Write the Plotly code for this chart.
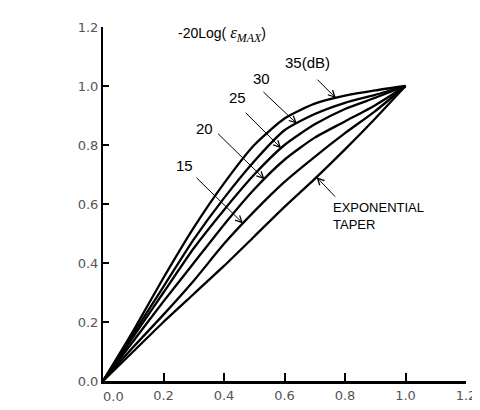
import numpy as np
import plotly.graph_objects as go

zeta = [0.0, 0.1, 0.2, 0.3, 0.4, 0.5, 0.6, 0.7, 0.8, 0.9, 1.0]
g35 = [0.0, 0.17, 0.35, 0.52, 0.67, 0.80, 0.89, 0.94, 0.967, 0.985, 1.0]
g30 = [0.0, 0.16, 0.32, 0.48, 0.62, 0.745, 0.85, 0.905, 0.943, 0.97, 1.0]
g25 = [0.0, 0.15, 0.30, 0.45, 0.58, 0.70, 0.80, 0.87, 0.922, 0.96, 1.0]
g20 = [0.0, 0.135, 0.27, 0.40, 0.53, 0.65, 0.75, 0.825, 0.88, 0.935, 1.0]
g15 = [0.0, 0.115, 0.225, 0.34, 0.465, 0.575, 0.675, 0.76, 0.84, 0.915, 1.0]
gexp = [0.0, 0.1, 0.2, 0.295, 0.39, 0.49, 0.59, 0.685, 0.785, 0.89, 1.0]

series = [("35", g35), ("30", g30), ("25", g25), ("20", g20), ("15", g15), ("EXP", gexp)]
labels = ["35(dB)", "30", "25", "20", "15", "EXPONENTIAL<br>TAPER"]
arrow_x = [0.770, 0.641, 0.589, 0.534, 0.463, 0.706]
tick_vals = [0.0, 0.2, 0.4, 0.6, 0.8, 1.0, 1.2]
tick_text = ["0.0", "0.2", "0.4", "0.6", "0.8", "1.0", "1.2"]

fig = go.Figure()
for name, g in series:
    fig.add_trace(go.Scatter(x=zeta, y=g, mode="lines", name=name,
                             line=dict(color="black", width=2.3, shape="spline", smoothing=0.6),
                             showlegend=False, hoverinfo="skip"))

# arrows (tail offsets in px)
arrow_off = [(-20, -20), (-35, -33), (-37, -37), (-48, -47), (-48, -47), (20, 21)]
# text positions in data coords
text_pos = [(0.676, 1.079, "center"), (0.524, 1.025, "center"), (0.443, 0.961, "center"),
            (0.337, 0.857, "center"), (0.269, 0.731, "center"), (0.754, 0.558, "left")]
text_size = [15, 15, 15, 15, 15, 13]

for (name, g), ax_, (ox, oy), (tx, ty, al), lab, fs in zip(series, arrow_x, arrow_off, text_pos, labels, text_size):
    ay_ = float(np.interp(ax_, zeta, g))
    fig.add_annotation(x=ax_, y=ay_, text="", showarrow=True, ax=ox, ay=oy,
                       arrowhead=5, arrowsize=1.3, arrowwidth=1, arrowcolor="black")
    fig.add_annotation(x=tx, y=ty, text=lab, showarrow=False, xanchor=al, align="left",
                       font=dict(family="Liberation Sans, Arial", size=fs, color="black"))

# x tick label 0.0 (shifted right like the reference)
fig.add_annotation(x=0.0, y=0.0, yshift=-15, xshift=10, text=tick_text[0], showarrow=False,
                   font=dict(family="DejaVu Sans", size=13, color="#555"))

# axis titles and header
fig.add_annotation(x=-0.178, y=1.119, text="G(B, ζ)", showarrow=False,
                   font=dict(family="Liberation Sans, Arial", size=13, color="black"))
fig.add_annotation(x=1.152, y=-0.093, text="ζ", showarrow=False,
                   font=dict(family="Liberation Serif, Times New Roman", size=19, color="black"))
fig.add_annotation(x=0.395, y=1.175, showarrow=False,
                   text="-20Log( <span style='font-family:Liberation Serif;font-size:17px'><i>ε<sub>MAX</sub></i></span>)",
                   font=dict(family="Liberation Sans, Arial", size=14, color="black"))

fig.update_xaxes(range=[0, 1.2], tickvals=tick_vals, ticktext=[""] + tick_text[1:],
                 ticks="inside", ticklen=8, tickwidth=2, tickcolor="black",
                 showline=True, linewidth=3, linecolor="black", showgrid=False, zeroline=False,
                 tickfont=dict(family="DejaVu Sans", size=13, color="#555"))
fig.update_yaxes(range=[0, 1.2], tickvals=tick_vals, ticktext=tick_text,
                 ticks="inside", ticklen=6, tickwidth=2, tickcolor="black",
                 showline=True, linewidth=2, linecolor="black", showgrid=False, zeroline=False,
                 tickfont=dict(family="DejaVu Sans", size=13, color="#555"))

fig.update_layout(width=480, height=410, margin=dict(l=95, r=14, t=16, b=37),
                  plot_bgcolor="white", paper_bgcolor="white")

fig.write_html("out.html")
